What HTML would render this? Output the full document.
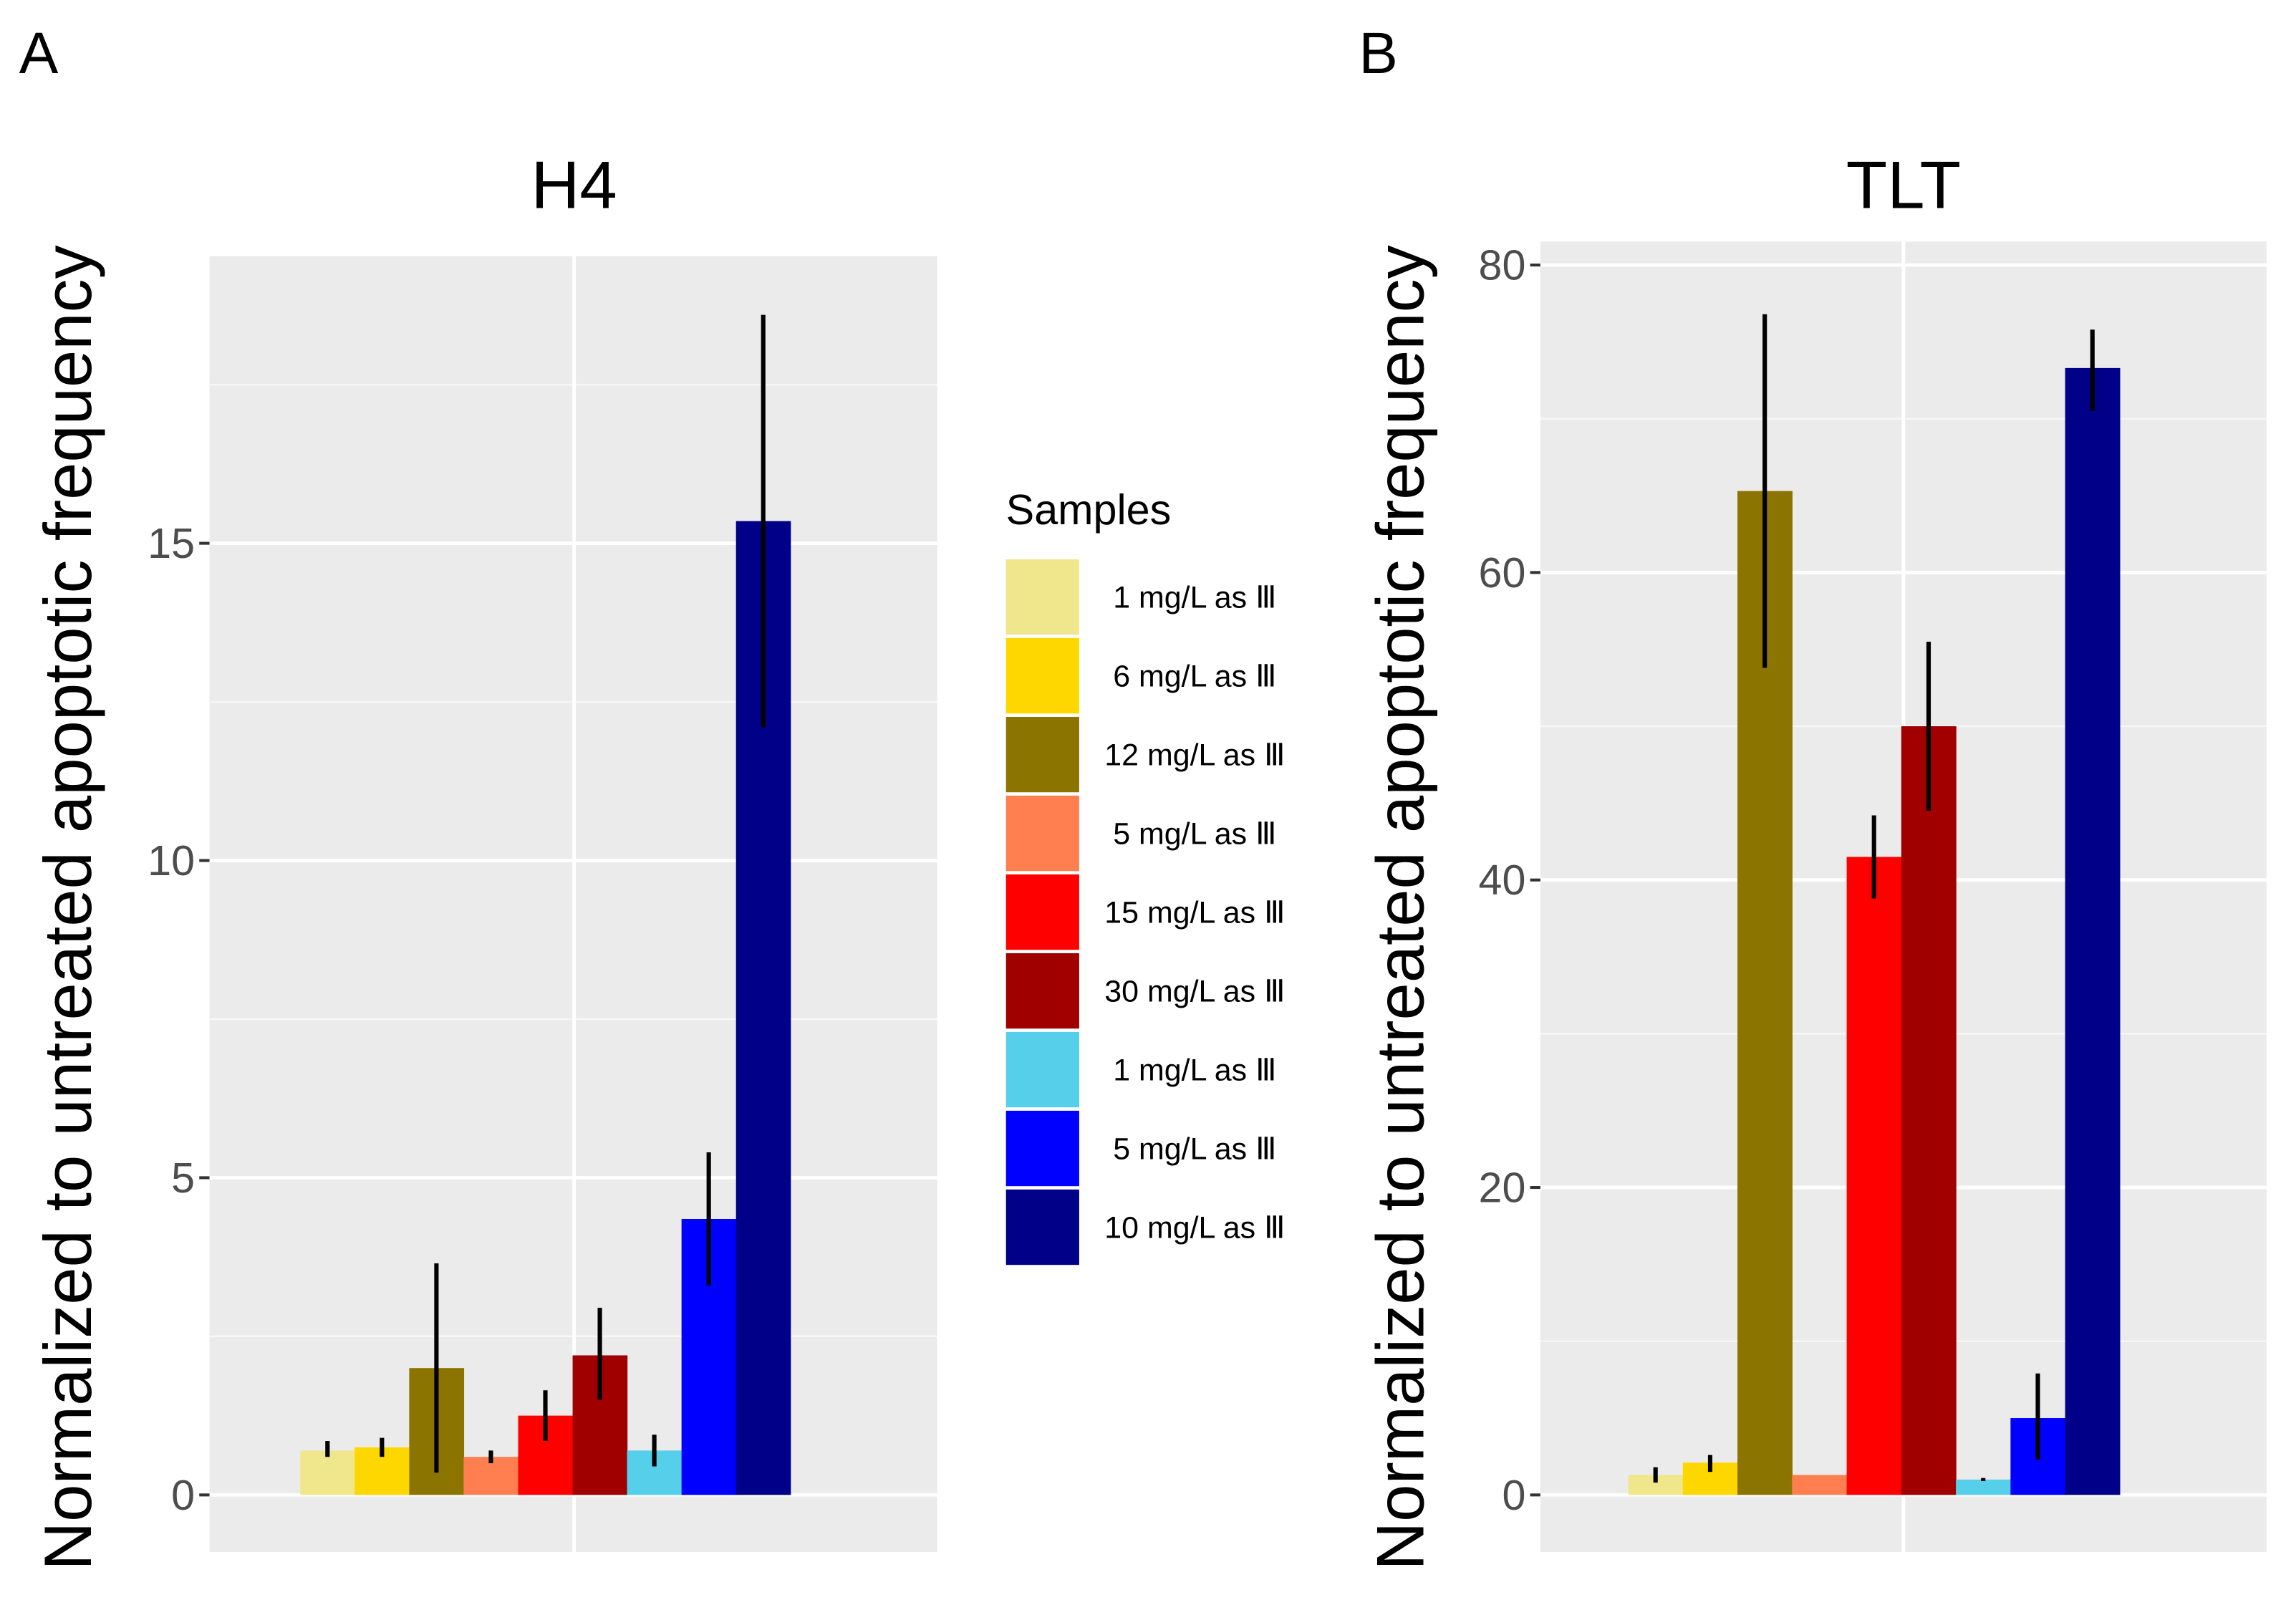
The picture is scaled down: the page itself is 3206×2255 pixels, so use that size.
<!DOCTYPE html>
<html><head><meta charset="utf-8"><style>
html,body{margin:0;padding:0;background:#fff;}
svg{display:block;}
text{font-family:"Liberation Sans","DejaVu Sans","Noto Sans CJK JP",sans-serif;}
</style></head><body>
<svg id="fig" width="3206" height="2255" viewBox="0 0 1568 1103" xmlns="http://www.w3.org/2000/svg">
<text x="13" y="50" font-size="40" fill="#000">A</text>
<text x="928" y="50" font-size="40" fill="#000">B</text>
<text x="392" y="142" font-size="46" text-anchor="middle" fill="#000">H4</text>
<text x="1300" y="142" font-size="46" text-anchor="middle" fill="#000">TLT</text>
<text transform="translate(62,620) rotate(-90)" font-size="46" text-anchor="middle" fill="#000">Normalized to untreated apoptotic frequency</text>
<text transform="translate(972,620) rotate(-90)" font-size="46" text-anchor="middle" fill="#000">Normalized to untreated apoptotic frequency</text>
<g id="legend">
<text x="687" y="358" font-size="29" fill="#000">Samples</text>
</g>
<g id="panelA"></g>
<g id="panelB"></g>
</svg>
<script>
const colors = ["#F0E68C","#FFD700","#8B7500","#FF7F50","#FF0000","#A00000","#56CFEA","#0000FF","#000088"];
const labels = ["1 mg/L as Ⅲ","6 mg/L as Ⅲ","12 mg/L as Ⅲ","5 mg/L as Ⅲ","15 mg/L as Ⅲ","30 mg/L as Ⅲ","1 mg/L as Ⅲ","5 mg/L as Ⅲ","10 mg/L as Ⅲ"];
const h4Values = [0.7,0.75,2.0,0.6,1.25,2.2,0.7,4.35,15.35];
const h4Low = [0.6,0.6,0.35,0.5,0.85,1.5,0.45,3.3,12.1];
const h4High = [0.85,0.9,3.65,0.7,1.65,2.95,0.95,5.4,18.6];
const h4Ticks = [0,5,10,15];
const tltValues = [1.3,2.1,65.3,1.3,41.5,50,1.0,5.0,73.3];
const tltLow = [0.8,1.5,53.8,1.3,38.8,44.5,0.9,2.3,70.5];
const tltHigh = [1.8,2.6,76.8,1.3,44.2,55.5,1.1,7.9,75.8];
const tltTicks = [0,20,40,60,80];

const NS="http://www.w3.org/2000/svg";
function mk(tag, attrs, parent){const e=document.createElementNS(NS,tag);for(const k in attrs)e.setAttribute(k,attrs[k]);parent.appendChild(e);return e;}

function panel(g, cfg){
  const {x0,x1,y0,y1,zeroY,unitPx,barL,barW,center,vals,lo,hi,ticks,minorStep} = cfg;
  const y = v => zeroY - v*unitPx;
  const bg = mk('rect',{x:x0,y:y0,width:x1-x0,height:y1-y0,fill:'#EBEBEB'},g);
  
  
  const maxV = (zeroY-y0)/unitPx, minV=(zeroY-y1)/unitPx;
  for(let v=Math.ceil(minV/minorStep)*minorStep; v<=maxV; v+=minorStep){
    if(ticks.some(t=>Math.abs(t-v)<1e-9)) continue;
    const l=mk('line',{x1:x0,x2:x1,y1:y(v),y2:y(v),stroke:'#F7F7F7','stroke-width':1.2},g);
    
    
  }
  ticks.forEach(t=>{
    const l=mk('line',{x1:x0,x2:x1,y1:y(t),y2:y(t),stroke:'#fff','stroke-width':2.4},g);
    
    
    const tk=mk('line',{x1:x0-7,x2:x0,y1:y(t),y2:y(t),stroke:'#333','stroke-width':2},g);
    
    
    const tx=mk('text',{x:x0-10,y:y(t)+10,'font-size':29,'text-anchor':'end',fill:'#4D4D4D'},g);
    tx.textContent=String(t);
    
    
  });
  const vg=mk('line',{x1:center,x2:center,y1:y0,y2:y1,stroke:'#fff','stroke-width':2.4},g);
  
  
  vals.forEach((v,i)=>{
    const bx=barL+i*barW;
    const r=mk('rect',{x:bx,y:y(v),width:barW+0.3,height:zeroY-y(v),fill:colors[i]},g);
    
    
  });
  vals.forEach((v,i)=>{
    const cx=barL+i*barW+barW/2;
    if(hi[i]-lo[i]<=0) return;
    const e=mk('line',{x1:cx,x2:cx,y1:y(lo[i]),y2:y(hi[i]),stroke:'#000','stroke-width':3},g);
    
    
  });
}

panel(document.getElementById('panelA'),{x0:143,x1:640,y0:175,y1:1060,zeroY:1021,unitPx:43.33,barL:205,barW:37.2,center:392,vals:h4Values,lo:h4Low,hi:h4High,ticks:h4Ticks,minorStep:2.5});
panel(document.getElementById('panelB'),{x0:1052,x1:1548,y0:165,y1:1060,zeroY:1021,unitPx:10.5,barL:1112,barW:37.3,center:1300,vals:tltValues,lo:tltLow,hi:tltHigh,ticks:tltTicks,minorStep:10});

const lg=document.getElementById('legend');
labels.forEach((lab,i)=>{
  const ky=381+i*53.8;
  const k=mk('rect',{x:687,y:ky+1,width:50,height:51.5,fill:colors[i]},lg);
  
  
  const t=mk('text',{x:816,y:ky+34,'font-size':21,'text-anchor':'middle',fill:'#000'},lg);
  t.textContent=lab;
  
  
});
</script>
</body></html>
